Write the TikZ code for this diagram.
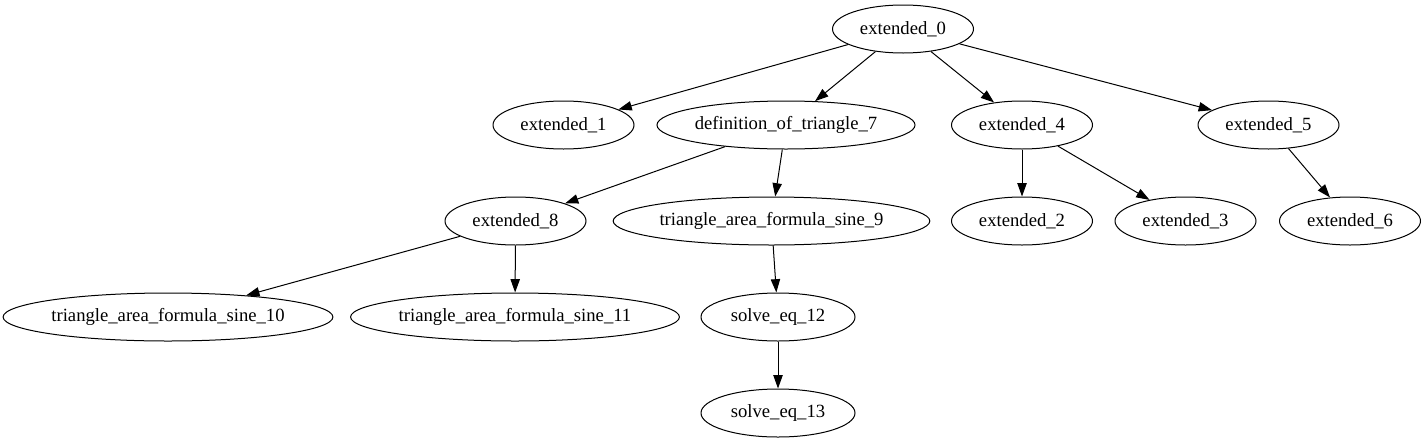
\documentclass[tikz,border=0pt]{standalone}
\usepackage{fontspec}
\setmainfont{Liberation Serif}
\usetikzlibrary{positioning,%
  arrows.meta,%
  shapes.geometric%
}

\begin{document}
\begin{tikzpicture}[x=0.75pt, y=-0.75pt,
    gnode/.style={draw, ellipse, line width=0.75pt, inner sep=0pt,
      minimum height=36pt, minimum width=#1,
      font=\fontsize{14}{16}\selectfont},
    gnode/.default=105.75pt,
    gedge/.style={line width=0.75pt, -{Triangle[length=10pt,width=7pt]}}]
  \useasboundingbox (0,0) rectangle (1426,443);

  % rank 0 and 1
  \node [gnode] (e0) at (903,29) {extended\_0};
  \node [gnode] (e1) at (563.5,125) {extended\_1};
  \node [gnode=193.5pt] (d7) at (786,125) {definition\_of\_triangle\_7};
  \node [gnode] (e4) at (1022,125) {extended\_4};
  \node [gnode] (e5) at (1268.5,125) {extended\_5};

  % rank 2
  \node [gnode] (e8) at (515.5,221) {extended\_8};
  \node [gnode=234.75pt] (t9) at (771.5,221) {triangle\_area\_formula\_sine\_9};
  \node [gnode] (e2) at (1022,221) {extended\_2};
  \node [gnode] (e3) at (1185.5,221) {extended\_3};
  \node [gnode] (e6) at (1350,221) {extended\_6};

  % rank 3 and 4
  \node [gnode=243pt] (t10) at (168,317) {triangle\_area\_formula\_sine\_10};
  \node [gnode=243pt] (t11) at (515,317) {triangle\_area\_formula\_sine\_11};
  \node [gnode=115.5pt] (s12) at (778,317) {solve\_eq\_12};
  \node [gnode=115.5pt] (s13) at (778,413) {solve\_eq\_13};

  \foreach \a/\b in {e0/e1, e0/d7, e0/e4, e0/e5, d7/e8, d7/t9, e4/e2, e4/e3,
      e5/e6, e8/t10, e8/t11, t9/s12, s12/s13}
    \draw [gedge] (\a) -- (\b);
\end{tikzpicture}
\end{document}
